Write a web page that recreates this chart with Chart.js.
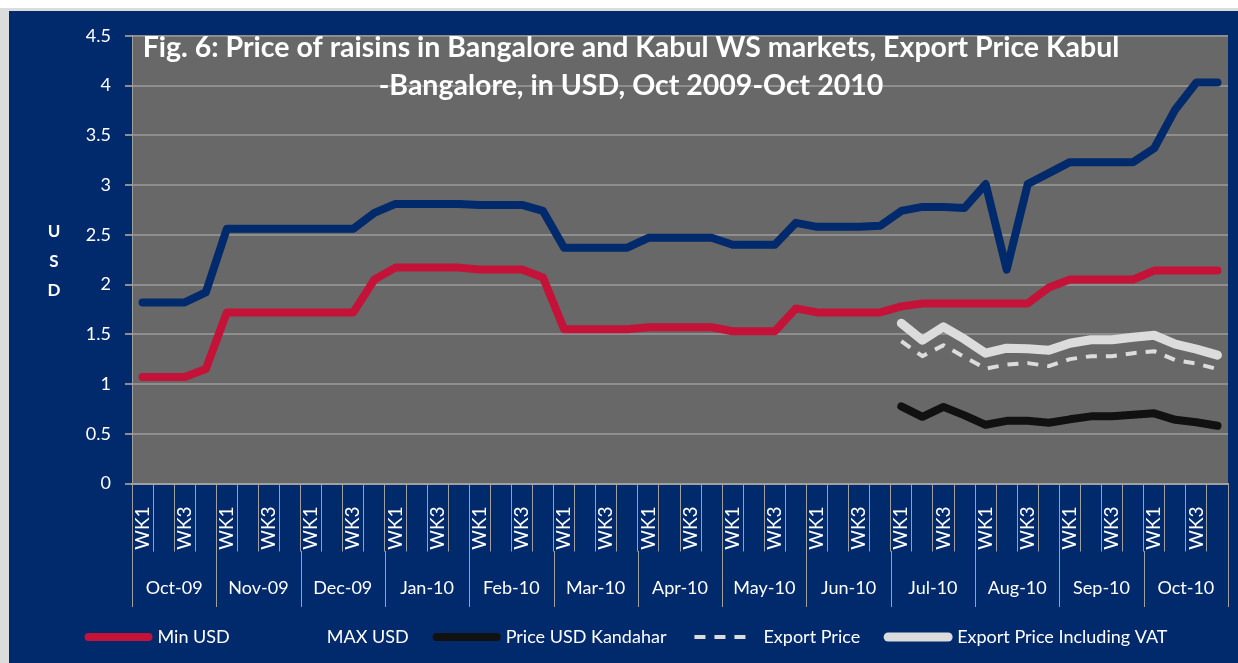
<!DOCTYPE html>
<html>
<head>
<meta charset="utf-8">
<script src="https://cdn.jsdelivr.net/npm/chart.js@4.4.1/dist/chart.umd.min.js"></script>
<style>
html, body { margin: 0; padding: 0; background: #fff; width: 1238px; height: 663px; overflow: hidden; }
#frame { position: absolute; left: 0; top: 8px; width: 1238px; height: 655px; background: #dcdcdc; }
#panel { position: absolute; left: 9px; top: 11px; width: 1229px; height: 652px; background: #002a6c; }
</style>
</head>
<body>
<div id="frame"></div>
<div id="panel"><canvas id="chart" width="1229" height="652"></canvas></div>
<script>
// Data
const months = ['Oct-09', 'Nov-09', 'Dec-09', 'Jan-10', 'Feb-10', 'Mar-10', 'Apr-10',
                'May-10', 'Jun-10', 'Jul-10', 'Aug-10', 'Sep-10', 'Oct-10'];
const weeks = ['WK1', 'WK2', 'WK3', 'WK4'];
const titleLines = ['Fig. 6: Price of raisins in Bangalore and Kabul WS markets, Export Price Kabul',
                    '-Bangalore, in USD, Oct 2009-Oct 2010'];
const yTitle = ['U', 'S', 'D'];

const minUsd = [
  1.07, 1.07, 1.07, 1.15,   1.72, 1.72, 1.72, 1.72,   1.72, 1.72, 1.72, 2.05,
  2.17, 2.17, 2.17, 2.17,   2.15, 2.15, 2.15, 2.07,   1.55, 1.55, 1.55, 1.55,
  1.57, 1.57, 1.57, 1.57,   1.53, 1.53, 1.53, 1.76,   1.72, 1.72, 1.72, 1.72,
  1.78, 1.81, 1.81, 1.81,   1.81, 1.81, 1.81, 1.97,   2.05, 2.05, 2.05, 2.05,
  2.14, 2.14, 2.14, 2.14
];
const maxUsd = [
  1.82, 1.82, 1.82, 1.92,   2.56, 2.56, 2.56, 2.56,   2.56, 2.56, 2.56, 2.72,
  2.81, 2.81, 2.81, 2.81,   2.80, 2.80, 2.80, 2.74,   2.37, 2.37, 2.37, 2.37,
  2.47, 2.47, 2.47, 2.47,   2.40, 2.40, 2.40, 2.62,   2.58, 2.58, 2.58, 2.59,
  2.74, 2.78, 2.78, 2.77,   3.01, 2.15, 3.01, 3.12,   3.23, 3.23, 3.23, 3.23,
  3.37, 3.76, 4.03, 4.03
];
const noData = new Array(36).fill(null);
const kandahar = noData.concat([
  0.775, 0.67, 0.77, 0.685,  0.59, 0.63, 0.63, 0.61,  0.645, 0.675, 0.675, 0.69,
  0.705, 0.64, 0.615, 0.58
]);
const exportPrice = noData.concat([
  1.43, 1.28, 1.39, 1.27,   1.155, 1.195, 1.21, 1.18,  1.25, 1.28, 1.28, 1.31,
  1.33, 1.24, 1.205, 1.15
]);
const exportVat = noData.concat([
  1.61, 1.44, 1.575, 1.45,  1.31, 1.36, 1.355, 1.34,  1.41, 1.445, 1.445, 1.47,
  1.49, 1.40, 1.35, 1.29
]);

// Style
const FONT = 'Lato, "Open Sans", sans-serif';
const BG = '#002a6c';
const PLOT = '#686868';
const GRID = '#8e8e8e';
const AXIS = '#a0a0a0';

const labels = months.flatMap(() => weeks);

function lineSet(label, data, color, width, dash) {
  return {
    label: label,
    data: data,
    borderColor: color,
    backgroundColor: color,
    borderWidth: width,
    borderDash: dash || [],
    borderCapStyle: dash ? 'butt' : 'round',
    borderJoinStyle: 'round',
    pointRadius: 0,
    pointHoverRadius: 0,
    tension: 0,
    fill: false
  };
}

// plot background
const plotBg = {
  id: 'plotBg',
  beforeDraw(chart) {
    const a = chart.chartArea;
    const ctx = chart.ctx;
    ctx.save();
    ctx.fillStyle = PLOT;
    ctx.fillRect(a.left, a.top, a.right - a.left, a.bottom - a.top);
    ctx.restore();
  }
};

// title, USD label, month row
const extras = {
  id: 'extras',
  afterDraw(chart) {
    const ctx = chart.ctx;
    const x = chart.scales.x;
    ctx.save();

    // month separators and labels
    const half = (x.getPixelForValue(1) - x.getPixelForValue(0)) / 2;
    ctx.strokeStyle = AXIS;
    ctx.lineWidth = 1;
    for (let j = 0; j <= months.length; j++) {
      const px = j < months.length ? x.getPixelForValue(j * 4) - half
                                   : x.getPixelForValue(j * 4 - 1) + half;
      ctx.beginPath();
      ctx.moveTo(Math.round(px) + 0.5, 540);
      ctx.lineTo(Math.round(px) + 0.5, 596);
      ctx.stroke();
    }
    ctx.fillStyle = '#fff';
    ctx.font = '18px ' + FONT;
    ctx.textAlign = 'center';
    ctx.textBaseline = 'middle';
    months.forEach((m, j) => {
      const cx = (x.getPixelForValue(j * 4) + x.getPixelForValue(j * 4 + 3)) / 2;
      ctx.fillText(m, cx, 577);
    });

    // axis title
    ctx.font = 'bold 17px ' + FONT;
    yTitle.forEach((t, i) => ctx.fillText(t, 45, 221 + i * 29.5));

    // chart title, fitted to the original width
    ctx.textBaseline = 'alphabetic';
    ctx.font = 'bold 24px ' + FONT;
    const w = ctx.measureText(titleLines[0]).width;
    const size = 24 * 978 / w;
    ctx.font = 'bold ' + size.toFixed(1) + 'px ' + FONT;
    ctx.fillText(titleLines[0], 622, 46);
    ctx.fillText(titleLines[1], 622, 84);
    ctx.restore();
  }
};

const ctx = document.getElementById('chart').getContext('2d');
const chart = new Chart(ctx, {
  type: 'line',
  data: {
    labels: labels,
    datasets: [
      lineSet('Min USD', minUsd, '#c41239', 8),
      lineSet('MAX USD', maxUsd, BG, 8),
      lineSet('Price USD Kandahar', kandahar, '#111111', 8),
      lineSet('Export Price', exportPrice, '#dcdcdc', 4, [11, 9]),
      lineSet('Export Price Including VAT', exportVat, '#dcdcdc', 9)
    ]
  },
  options: {
    responsive: false,
    animation: false,
    layout: { padding: { top: 24, right: 10, left: 19, bottom: 7 } },
    scales: {
      x: {
        offset: true,
        grid: { drawOnChartArea: false, drawTicks: true, tickLength: 68, color: AXIS, lineWidth: 1, offset: true },
        border: { display: true, color: AXIS, width: 2 },
        ticks: {
          autoSkip: false,
          minRotation: 90,
          maxRotation: 90,
          padding: -45,
          color: '#fff',
          font: { family: FONT, size: 19 },
          callback: function (value, index) {
            return index % 2 === 0 ? this.getLabelForValue(value) : '';
          }
        },
        afterFit: s => { s.height = 116.5; }
      },
      y: {
        min: 0,
        max: 4.5,
        grid: { color: GRID, lineWidth: 2, tickLength: 7, drawTicks: true },
        border: { display: true, color: AXIS, width: 1 },
        ticks: {
          stepSize: 0.5,
          padding: 14,
          color: '#fff',
          font: { family: FONT, size: 18 },
          callback: v => String(v)
        },
        afterFit: s => { s.width = 104; }
      }
    },
    plugins: {
      title: { display: false },
      tooltip: { enabled: false },
      legend: {
        position: 'bottom',
        labels: {
          usePointStyle: true,
          pointStyle: 'line',
          pointStyleWidth: 60,
          padding: 28,
          color: '#fff',
          font: { family: FONT, size: 18 },
          generateLabels: c => Chart.defaults.plugins.legend.labels.generateLabels(c).map(item => {
            const ds = c.data.datasets[item.datasetIndex];
            return Object.assign(item, {
              lineWidth: ds.borderWidth,
              lineDash: ds.borderDash,
              strokeStyle: ds.borderColor,
              lineCap: ds.borderCapStyle
            });
          })
        }
      }
    }
  },
  plugins: [plotBg, extras]
});
</script>
</body>
</html>
